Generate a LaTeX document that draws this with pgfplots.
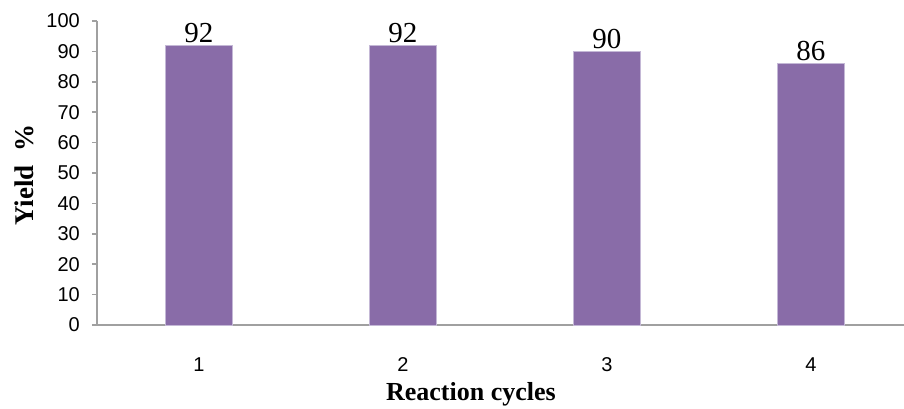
\documentclass[border=0pt]{standalone}
\usepackage{fontspec}
\setmainfont{Liberation Serif}
\newfontfamily\ticksf{Liberation Sans}
\usepackage{pgfplots}
\pgfplotsset{compat=1.18}
\definecolor{barpurple}{RGB}{137,108,168}
\definecolor{baredge}{RGB}{196,184,214}
\definecolor{axisgray}{RGB}{160,160,160}

\begin{document}
\begin{tikzpicture}
\begin{axis}[
  name=ax, at={(0,0)}, anchor=south west,
  scale only axis, width=807pt, height=304pt,
  xmin=0.5, xmax=4.456, ymin=0, ymax=100,
  axis x line*=bottom, axis y line*=left,
  axis line style={axisgray, line width=1.6pt},
  ybar, bar width=67pt,
  xtick={1,2,3,4}, xtick style={draw=none},
  ytick={0,10,...,100},
  ytick style={axisgray, line width=1.6pt},
  tick align=outside, major tick length=5pt,
  tick label style={font=\ticksf\fontsize{20}{22}\selectfont},
  /pgf/number format/assume math mode=true,
  xticklabel style={anchor=base, inner sep=0pt, yshift=-41pt},
  yticklabel style={anchor=east, inner sep=0pt, xshift=-12pt},
  xlabel={Reaction cycles},
  xlabel style={at={(axis description cs:0.4634,0)}, anchor=base, yshift=-75pt,
    font=\bfseries\fontsize{26}{28}\selectfont},
  ylabel={Yield~~\%},
  ylabel style={at={(axis description cs:-0.0905,0.493)}, anchor=center,
    font=\bfseries\fontsize{27}{29}\selectfont},
  nodes near coords,
  nodes near coords style={anchor=base, inner sep=0pt, yshift=3pt,
    font=\fontsize{29}{30}\selectfont},
]
\addplot[fill=barpurple, draw=baredge, line width=0.8pt] coordinates {
  (1,92) (2,92) (3,90) (4,86)
};
\end{axis}
\pgfresetboundingbox
\path[use as bounding box] (-97pt,-83pt) rectangle (807pt,325pt);
\end{tikzpicture}
\end{document}
